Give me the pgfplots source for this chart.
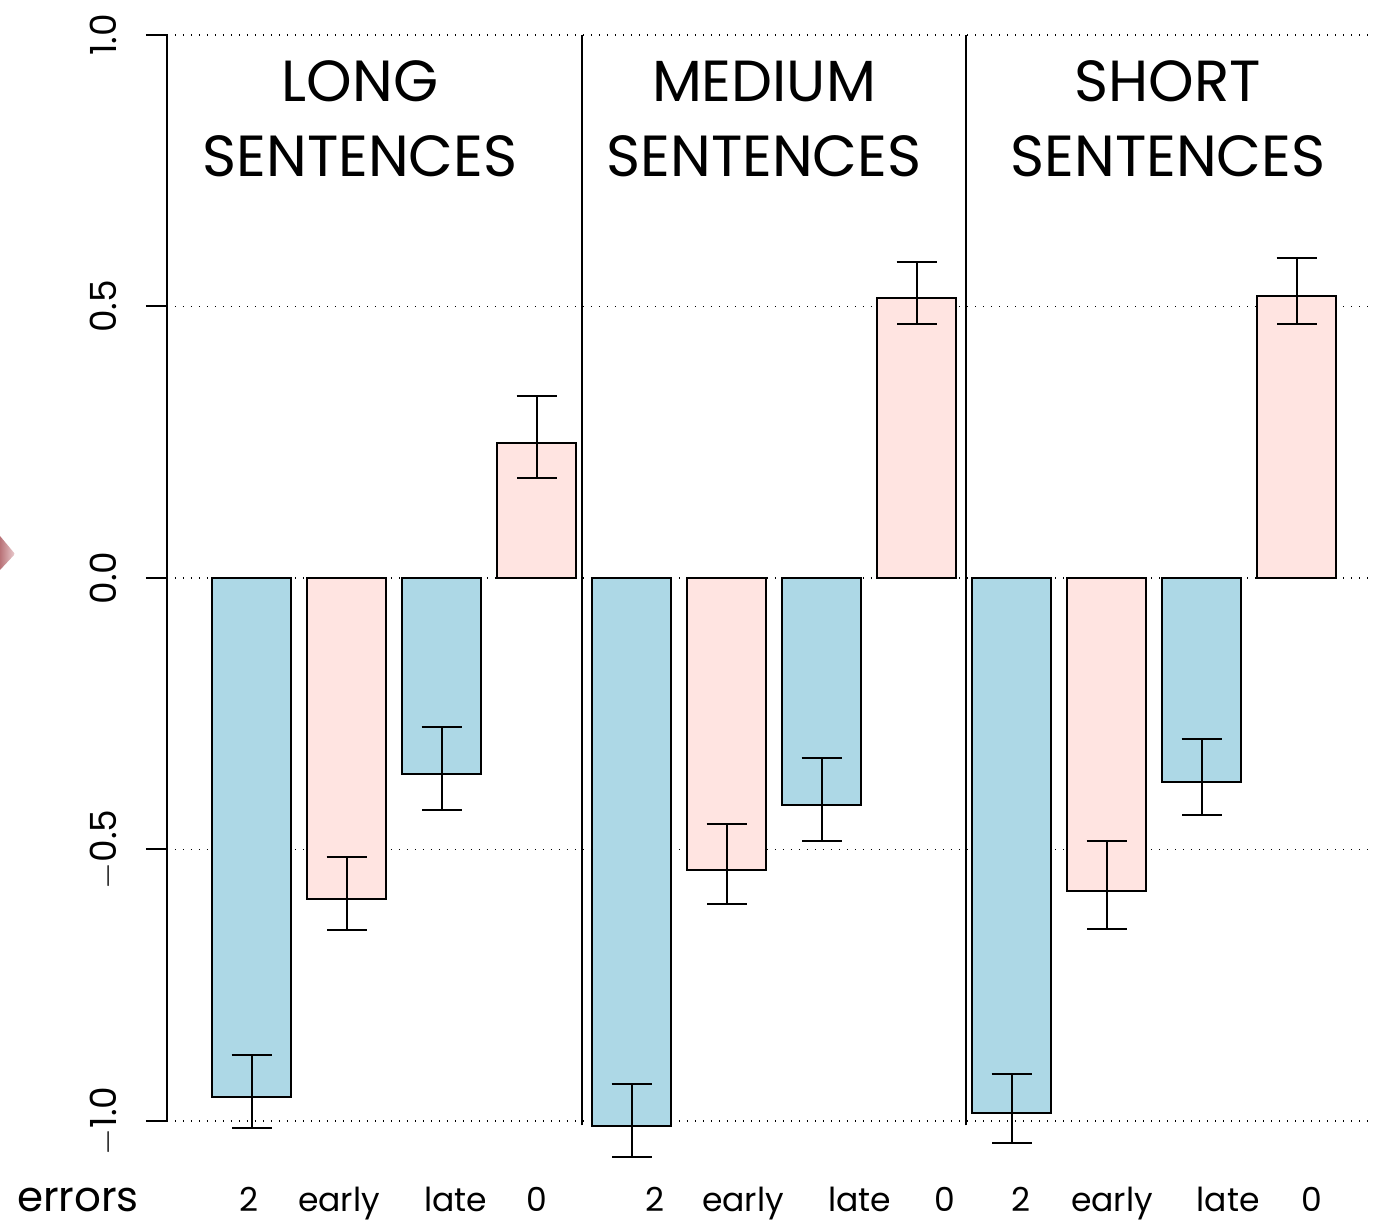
\documentclass[border=0pt]{standalone}
\usepackage{pgfplots}
\pgfplotsset{compat=1.18}
\usepackage{pgfplotstable}
\usepackage{fontspec}
\setmainfont{Poppins}
\definecolor{lblue}{RGB}{173,216,230}
\definecolor{mrose}{RGB}{255,228,225}
\definecolor{triA}{RGB}{185,115,120}
\definecolor{triB}{RGB}{235,205,208}

\pgfplotstableread{
x y ep em
0 -0.956 0.078 0.057
2 -0.361 0.087 0.066
4 -1.009 0.077 0.057
6 -0.418 0.087 0.066
8 -0.985 0.072 0.055
10 -0.376 0.080 0.060
}\blue
\pgfplotstableread{
x y ep em
1 -0.591 0.077 0.057
3 0.249 0.086 0.065
5 -0.538 0.085 0.062
7 0.516 0.066 0.048
9 -0.576 0.092 0.070
11 0.519 0.070 0.051
}\pink

\begin{document}
\begin{tikzpicture}
\path[use as bounding box] (-83.5pt,-52pt) rectangle (603pt,560.5pt);
\shade[left color=triA, right color=triB] (-83.5pt,292.5pt) -- (-76pt,283.5pt) -- (-83.5pt,275.5pt) -- cycle;
\begin{axis}[
  scale only axis,
  width=603pt, height=543pt,
  xmin=-0.8895, xmax=11.805,
  ymin=-1, ymax=1,
  clip=false,
  axis lines*=left,
  x axis line style={draw=none},
  y axis line style={line width=1pt},
  ytick={-1,-0.5,0,0.5,1},
  yticklabels={$-$1.0,$-$0.5,0.0,0.5,1.0},
  yticklabel style={xshift=-14.5pt, rotate=90, anchor=base, font=\fontsize{18}{20}\selectfont},
  major y tick style={line width=1pt, black},
  tick align=outside,
  major tick length=10.5pt,
  xtick={-0.026,0.921,2.152,3.005,4.247,5.174,6.405,7.300,8.100,9.058,10.279,11.163},
  xticklabels={2,early,late,0,2,early,late,0,2,early,late,0},
  xticklabel style={anchor=base, yshift=-35pt, font=\fontsize{16.5}{20}\selectfont},
  major x tick style={draw=none},
  ymajorgrids,
  major grid style={black, line width=0.7pt, dash pattern=on 0.6pt off 3.4pt},
  /pgf/number format/assume math mode=true,
]
\addplot[ybar, bar width=39.5pt, bar shift=0pt, fill=lblue, draw=black, line width=1pt,
  error bars/.cd, y dir=both, y explicit,
  error bar style={line width=1pt, black},
  error mark options={rotate=90, mark size=10pt, line width=1pt, black}]
  table[x=x, y=y, y error plus=ep, y error minus=em] {\blue};
\addplot[ybar, bar width=39.5pt, bar shift=0pt, fill=mrose, draw=black, line width=1pt,
  error bars/.cd, y dir=both, y explicit,
  error bar style={line width=1pt, black},
  error mark options={rotate=90, mark size=10pt, line width=1pt, black}]
  table[x=x, y=y, y error plus=ep, y error minus=em] {\pink};
\addplot[black, line width=1pt, forget plot] coordinates {(3.48,-1.008) (3.48,1)};
\addplot[black, line width=1pt, forget plot] coordinates {(7.52,-1.008) (7.52,1)};
\node[anchor=base, font=\fontsize{29}{30}\selectfont] at (axis cs:1.142,0.8766) {LONG};
\node[anchor=base, font=\fontsize{29}{30}\selectfont] at (axis cs:1.142,0.7385) {SENTENCES};
\node[anchor=base, font=\fontsize{29}{30}\selectfont] at (axis cs:5.395,0.8766) {MEDIUM};
\node[anchor=base, font=\fontsize{29}{30}\selectfont] at (axis cs:5.395,0.7385) {SENTENCES};
\node[anchor=base, font=\fontsize{29}{30}\selectfont] at (axis cs:9.647,0.8766) {SHORT};
\node[anchor=base, font=\fontsize{29}{30}\selectfont] at (axis cs:9.647,0.7385) {SENTENCES};
\end{axis}
\node[anchor=base, font=\fontsize{21}{24}\selectfont] at (-44.5pt,-45.5pt) {errors};
\end{tikzpicture}
\end{document}
